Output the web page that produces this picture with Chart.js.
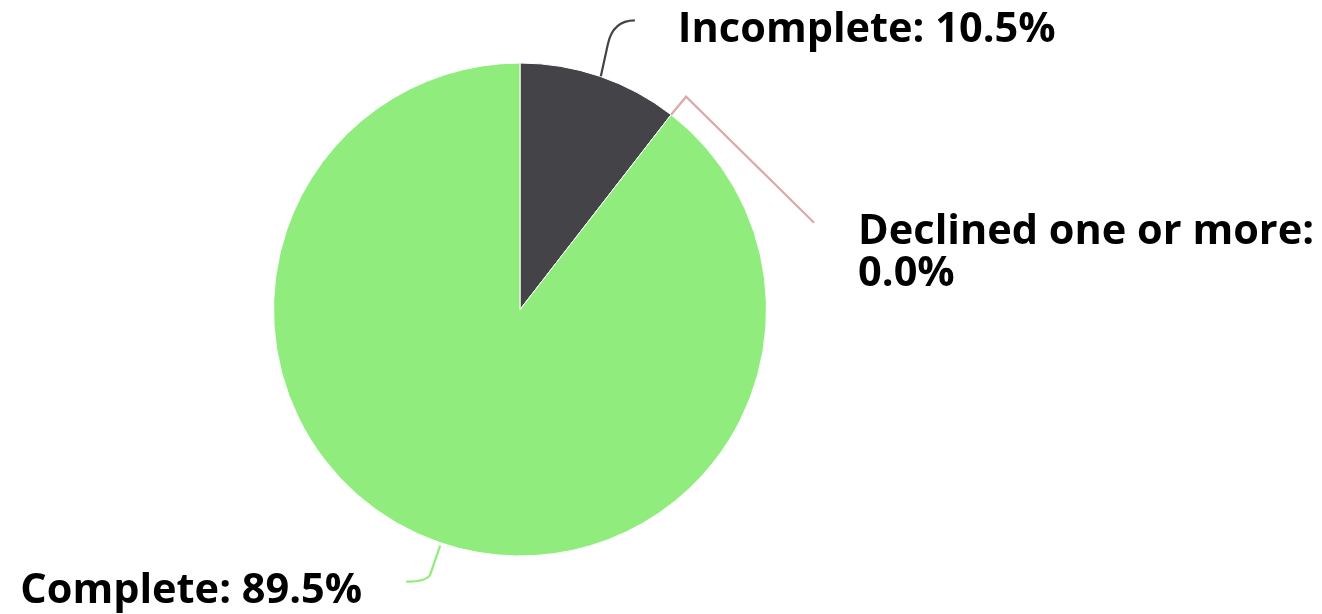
<!DOCTYPE html>
<html>
<head>
<meta charset="utf-8">
<script src="https://cdn.jsdelivr.net/npm/chart.js@4"></script>
<style>
  html, body { margin: 0; padding: 0; background: #fff; }
  #wrap { width: 1322px; height: 614px; }
</style>
</head>
<body>
<div id="wrap"><canvas id="myChart" width="1322" height="614"></canvas></div>
<script>
const labels = ["Incomplete", "Declined one or more", "Complete"]
const values = [10.5, 0.0, 89.5]
const colors = ["#434348", "#dca8a8", "#90ed7d"]

// label lines for each slice, relative to the point on the pie edge
const callouts = [
  { path: [[1, 0], [8, -32], [13, -56, 35, -56]], tx: 78, ty: -46, align: "left" },
  { path: [[0, 0], [15, -18], [143, 108]], tx: 187, ty: 117, align: "left" },
  { path: [[0, 3], [-10, 32], [-14, 39, -34, 39]], tx: -78, ty: 48, align: "right" },
]

const calloutPlugin = {
  id: "callouts",
  afterDatasetsDraw(chart) {
    const ctx = chart.ctx
    const meta = chart.getDatasetMeta(0)
    ctx.save()
    meta.data.forEach((arc, i) => {
      const c = callouts[i]
      const mid = (arc.startAngle + arc.endAngle) / 2
      const ax = arc.x + Math.cos(mid) * arc.outerRadius
      const ay = arc.y + Math.sin(mid) * arc.outerRadius
      ctx.beginPath()
      ctx.strokeStyle = colors[i]
      ctx.lineWidth = 2.2
      c.path.forEach((p, k) => {
        if (k == 0) ctx.moveTo(ax + p[0], ay + p[1])
        else if (p.length == 2) ctx.lineTo(ax + p[0], ay + p[1])
        else ctx.quadraticCurveTo(ax + p[0], ay + p[1], ax + p[2], ay + p[3])
      })
      ctx.stroke()

      ctx.fillStyle = "#000"
      ctx.font = "bold 41.5px 'Open Sans'"
      ctx.textAlign = c.align
      ctx.textBaseline = "middle"
      const lines = i == 1 ? ["Declined one or more:", "0.0%"] : [labels[i] + ": " + values[i].toFixed(1) + "%"]
      lines.forEach((t, k) => {
        ctx.fillText(t, ax + c.tx, ay + c.ty + k * 42)
      })
    })
    ctx.restore()
  }
}

const data = {
  labels: labels,
  datasets: [
    {
      data: values,
      backgroundColor: colors,
      borderColor: "#ffffff",
      borderWidth: 1,
      hoverOffset: 0,
    },
  ],
}

const config = {
  type: "pie",
  data: data,
  options: {
    responsive: false,
    animation: false,
    layout: {
      padding: { left: 273, right: 555, top: 62, bottom: 57 }
    },
    plugins: {
      legend: { display: false },
      tooltip: { enabled: false },
    },
  },
  plugins: [calloutPlugin],
}

const MyChart = new Chart(
  document.getElementById("myChart"),
  config
)
</script>
</body>
</html>
